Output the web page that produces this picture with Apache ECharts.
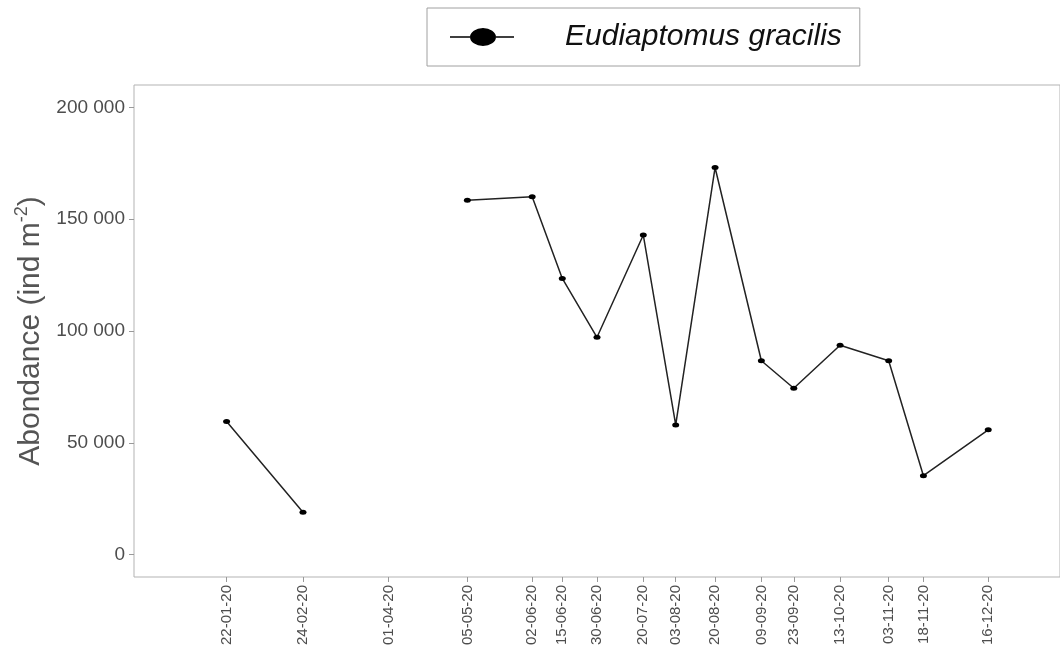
<!DOCTYPE html>
<html>
<head>
<meta charset="utf-8">
<script src="https://cdn.jsdelivr.net/npm/echarts@6/dist/echarts.min.js"></script>
<style>
  html, body { margin: 0; padding: 0; background: #fff; }
  #chart { width: 1060px; height: 653px; }
</style>
</head>
<body>
<div id="chart"></div>
<script>
// ---- data ----
const sampleDates = [
  [2020, 1, 22], [2020, 2, 24], [2020, 4, 1], [2020, 5, 5], [2020, 6, 2], [2020, 6, 15],
  [2020, 6, 30], [2020, 7, 20], [2020, 8, 3], [2020, 8, 20], [2020, 9, 9], [2020, 9, 23],
  [2020, 10, 13], [2020, 11, 3], [2020, 11, 18], [2020, 12, 16]
];
const tickLabels = [
  '22-01-20', '24-02-20', '01-04-20', '05-05-20', '02-06-20', '15-06-20',
  '30-06-20', '20-07-20', '03-08-20', '20-08-20', '09-09-20', '23-09-20',
  '13-10-20', '03-11-20', '18-11-20', '16-12-20'
];
const abundance = [
  59500, 19000, null, 158500, 160000, 123500,
  97200, 142900, 58000, 173100, 86700, 74400,
  93600, 86700, 35300, 55800
];
const yTicks = [0, 50000, 100000, 150000, 200000];
const seriesName = 'Eudiaptomus gracilis';

// ---- build ----
const ts = sampleDates.map(d => Date.UTC(d[0], d[1] - 1, d[2]));
const seriesData = ts.map((t, i) => [t, abundance[i] === null ? '-' : abundance[i]]);
const xMin = Date.UTC(2019, 11, 13);
const xMax = Date.UTC(2021, 0, 16);

const fmtThousands = v => String(v).replace(/\B(?=(\d{3})+(?!\d))/g, ' ');
const FONT = 'Liberation Sans, Arial, sans-serif';

const chart = echarts.init(document.getElementById('chart'), null, { renderer: 'canvas' });
chart.setOption({
  animation: false,
  backgroundColor: '#fff',
  textStyle: { fontFamily: FONT },
  grid: {
    left: 134, top: 85, right: -5, bottom: 76,
    show: true, borderColor: '#b3b3b3', borderWidth: 1, backgroundColor: 'transparent'
  },
  legend: {
    left: 427, top: 8,
    padding: [14, 18, 14, 23],
    borderColor: '#a0a0a0', borderWidth: 1,
    itemWidth: 64, itemHeight: 18,
    data: [{
      name: seriesName,
      icon: 'path://M0,9.25H20V10.75H0Z M20,10A13,9 0 1 1 46,10A13,9 0 1 1 20,10Z M46,9.25H64V10.75H46Z'
    }],
    textStyle: { fontSize: 30, fontStyle: 'italic', color: '#111', fontFamily: FONT, padding: [0, 0, 0, 46] }
  },
  xAxis: {
    type: 'value',
    min: xMin, max: xMax,
    axisLine: { show: false, onZero: false },
    splitLine: { show: false },
    axisTick: { show: true, length: 5, lineStyle: { color: '#999' }, customValues: ts },
    axisLabel: {
      customValues: ts,
      rotate: 90,
      fontSize: 15,
      color: '#4d4d4d',
      margin: 8,
      fontFamily: FONT,
      formatter: v => {
        const i = ts.indexOf(v);
        return i >= 0 ? tickLabels[i] : '';
      }
    }
  },
  yAxis: {
    type: 'value',
    min: -10000, max: 210000,
    name: '{n|Abondance (ind m}{s|-2}{n|)}',
    nameLocation: 'middle',
    nameRotate: 90,
    nameGap: 86,
    nameTextStyle: {
      rich: {
        n: { fontSize: 30, color: '#555', fontFamily: FONT, lineHeight: 34 },
        s: { fontSize: 18, color: '#555', fontFamily: FONT, verticalAlign: 'top', lineHeight: 20 }
      }
    },
    axisLine: { show: false, onZero: false },
    splitLine: { show: false },
    axisTick: { show: true, length: 5, lineStyle: { color: '#999' }, customValues: yTicks },
    axisLabel: {
      customValues: yTicks,
      fontSize: 19,
      color: '#4d4d4d',
      margin: 9,
      fontFamily: FONT,
      formatter: v => fmtThousands(v)
    }
  },
  series: [{
    name: seriesName,
    type: 'line',
    data: seriesData,
    connectNulls: false,
    symbol: 'circle',
    symbolSize: [7, 5],
    color: '#000',
    itemStyle: { color: '#000' },
    lineStyle: { color: '#222', width: 1.5 }
  }]
});
</script>
</body>
</html>
